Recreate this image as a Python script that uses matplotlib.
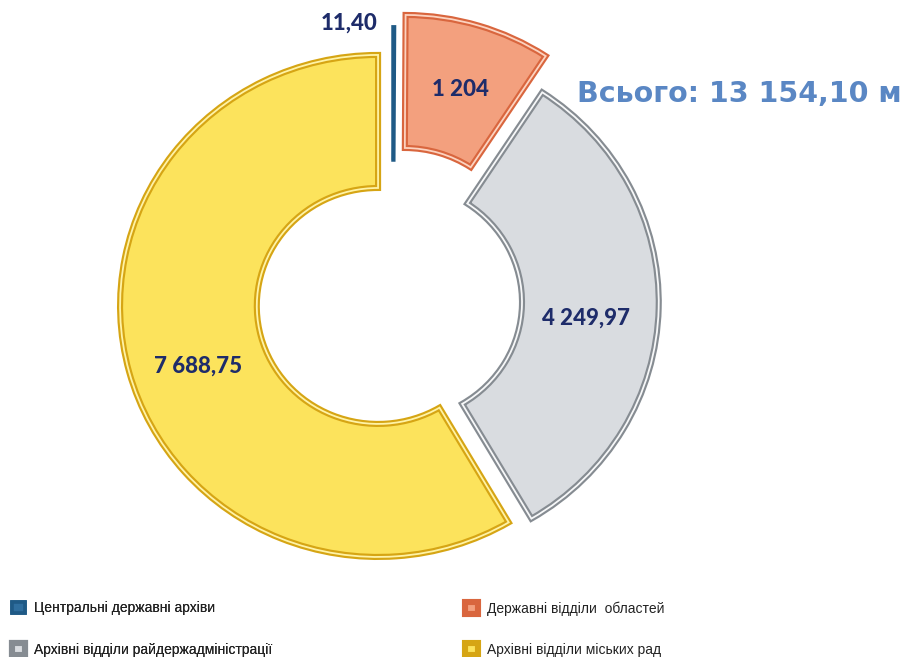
import matplotlib
matplotlib.use("Agg")
import matplotlib.pyplot as plt

# data
categories = [
    "Центральні державні архіви",
    "Державні відділи  областей",
    "Архівні відділи райдержадміністрації",
    "Архівні відділи міських рад",
]
values = [11.40, 1204, 4249.97, 7688.75]
value_labels = ["11,40", "1 204", "4 249,97", "7 688,75"]
total_label = "Всього: 13 154,10 м"

face_colors = ["#2F6E9E", "#F3A07E", "#D9DCE0", "#FCE35C"]
edge_colors = ["#1F5A86", "#D9663E", "#868C92", "#D6A514"]
light_colors = ["#2F6E9E", "#FCD3C0", "#F7F8F9", "#FFF3A6"]
edge_widths = [2.6, 4.4, 4.4, 4.4]
explode = [0.096, 0.15, 0.03, 0.06]

W, H = 909, 657
cx, cy = 393, 302      # pie centre in pixels
sx, sy = 258, 251      # pixels per unit radius (picture is a bit stretched)


def px(x, y):
    return (x - cx) / sx, (cy - y) / sy


fig = plt.figure(figsize=(W / 100, H / 100), dpi=100)
ax = fig.add_axes([0, 0, 1, 1])

wedges, _ = ax.pie(
    values,
    explode=explode,
    colors=face_colors,
    startangle=90,
    counterclock=False,
    wedgeprops=dict(width=0.53),
)
for w, ec, lw in zip(wedges, edge_colors, edge_widths):
    w.set_edgecolor(ec)
    w.set_linewidth(lw)

# light inner stroke for the bevel look
hi, _ = ax.pie(
    values,
    explode=explode,
    startangle=90,
    counterclock=False,
    wedgeprops=dict(width=0.53, linewidth=1.3, facecolor="none"),
)
for w, lc in zip(hi, light_colors):
    w.set_edgecolor(lc)
hi[0].set_linewidth(0)

ax.set_aspect("auto")
ax.set_xlim(-cx / sx, (W - cx) / sx)
ax.set_ylim(-(H - cy) / sy, cy / sy)
ax.axis("off")

label_font = dict(family=["Lato", "DejaVu Sans"], fontweight="black",
                  fontsize=16, color="#1E2C6A", ha="center", va="center")
label_pos = [(349, 23), (460, 89), (586, 318), (198, 366)]
for txt, (x, y) in zip(value_labels, label_pos):
    ax.text(*px(x, y), txt, **label_font)

ax.text(*px(577, 94), total_label, family="DejaVu Sans",
        fontweight="bold", fontsize=20.5, color="#5A87C4",
        ha="left", va="center")

# legend in two columns
order = [[0, 2], [1, 3]]
anchors = [(12 / W, 1 - 629 / H), (465 / W, 1 - 629 / H)]
legs = []
for col, anc in zip(order, anchors):
    leg = fig.legend(
        [wedges[i] for i in col],
        [categories[i] for i in col],
        loc="center left",
        bbox_to_anchor=anc,
        frameon=False,
        borderpad=0,
        borderaxespad=0,
        handlelength=0.9,
        handleheight=0.9,
        handletextpad=0.7,
        labelspacing=1.95,
        prop=dict(family="Liberation Sans", size=10),
    )
    for t in leg.get_texts():
        t.set_color("#222222")
    legs.append(leg)
for leg in legs[:-1]:
    fig.add_artist(leg)

fig.savefig("out.png", dpi=100)
